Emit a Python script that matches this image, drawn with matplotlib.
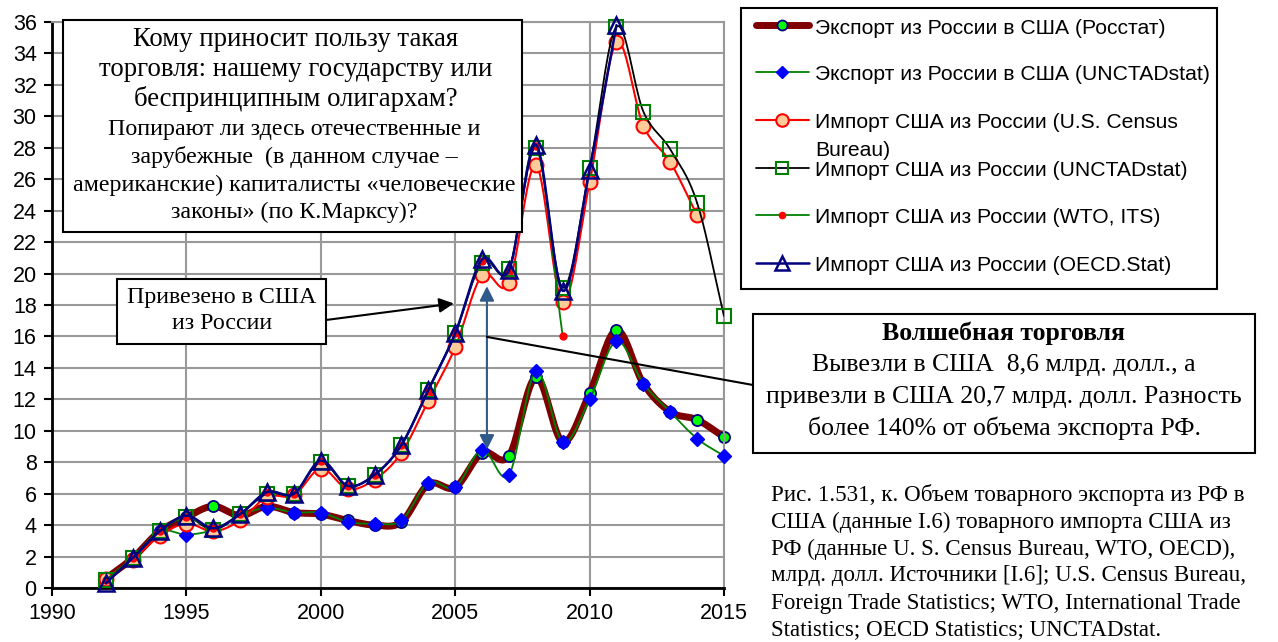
import numpy as np
import matplotlib
matplotlib.use("Agg")
import matplotlib.pyplot as plt
from matplotlib.lines import Line2D
from matplotlib.patches import Rectangle

# данные, млрд. долл.
years = list(range(1992, 2016))
exp_rosstat = [0.6, 1.9, 3.6, 4.5, 5.2, 4.6, 5.2, 4.8, 4.7, 4.3, 4.0, 4.2,
               6.6, 6.4, 8.6, 8.4, 13.4, 9.3, 12.4, 16.4, 13.0, 11.2, 10.7, 9.6]
exp_unctad = [0.6, 1.9, 3.6, 3.4, 3.7, 4.6, 5.1, 4.8, 4.8, 4.2, 4.1, 4.3,
              6.7, 6.4, 8.8, 7.2, 13.8, 9.3, 12.0, 15.7, 13.0, 11.2, 9.5, 8.4]
years_census = list(range(1992, 2015))
imp_census = [0.6, 1.8, 3.3, 4.1, 3.6, 4.3, 5.8, 5.9, 7.6, 6.3, 6.9, 8.6,
              11.9, 15.3, 19.9, 19.4, 26.9, 18.2, 25.8, 34.7, 29.4, 27.1, 23.7]
imp_unctad = [0.5, 1.9, 3.6, 4.5, 3.7, 4.7, 6.0, 6.0, 8.0, 6.5, 7.2, 9.1,
              12.6, 16.2, 20.7, 20.3, 28.0, 19.1, 26.7, 35.7, 30.3, 27.9, 24.5, 17.3]
years_wto = list(range(1992, 2010))
imp_wto = [0.5, 1.9, 3.6, 4.5, 3.8, 4.7, 6.1, 6.0, 8.1, 6.5, 7.2, 9.1,
           12.6, 16.2, 20.8, 20.2, 28.1, 16.0]
years_oecd = list(range(1992, 2012))
imp_oecd = [0.3, 1.9, 3.6, 4.6, 3.8, 4.7, 6.1, 6.0, 8.1, 6.5, 7.2, 9.1,
            12.6, 16.2, 20.9, 20.2, 28.2, 18.9, 26.6, 35.8]

labels = ["Экспорт из России в США (Росстат)",
          "Экспорт из России в США (UNCTADstat)",
          "Импорт США из России (U.S. Census\nBureau)",
          "Импорт США из России (UNCTADstat)",
          "Импорт США из России (WTO, ITS)",
          "Импорт США из России (OECD.Stat)"]

box1 = ["Кому приносит пользу такая",
        "торговля: нашему государству или",
        "беспринципным олигархам?"]
box1b = ["Попирают ли здесь отечественные и",
         "зарубежные  (в данном случае –",
         "американские) капиталисты «человеческие",
         "законы» (по К.Марксу)?"]
box3 = ["Вывезли в США  8,6 млрд. долл., а",
        "привезли в США 20,7 млрд. долл. Разность",
        "более 140% от объема экспорта РФ."]
caption = ["Рис. 1.531, к. Объем товарного экспорта из РФ в",
           "США (данные I.6) товарного импорта США из",
           "РФ (данные U. S. Census Bureau, WTO, OECD),",
           "млрд. долл. Источники [I.6]; U.S. Census Bureau,",
           "Foreign Trade Statistics; WTO, International Trade",
           "Statistics; OECD Statistics; UNCTADstat."]

W, H = 1278, 642
SANS = "Liberation Sans"
SERIF = "Liberation Serif"


def smooth(x, y, n=20):
    # сглаживание как в Excel (Catmull-Rom)
    x = np.asarray(x, float)
    y = np.asarray(y, float)
    px = np.concatenate([[2 * x[0] - x[1]], x, [2 * x[-1] - x[-2]]])
    py = np.concatenate([[2 * y[0] - y[1]], y, [2 * y[-1] - y[-2]]])
    xs, ys = [], []
    t = np.linspace(0, 1, n)
    for i in range(1, len(px) - 2):
        for arr, out in ((px, xs), (py, ys)):
            p0, p1, p2, p3 = arr[i - 1], arr[i], arr[i + 1], arr[i + 2]
            out.extend(0.5 * ((2 * p1) + (-p0 + p2) * t
                              + (2 * p0 - 5 * p1 + 4 * p2 - p3) * t ** 2
                              + (-p0 + 3 * p1 - 3 * p2 + p3) * t ** 3))
    return np.array(xs), np.array(ys)


def fx(px):
    return px / W


def fy(py):
    return 1 - py / H


# стили серий: линия, маркер
styles = [
    dict(color="#800000", lw=5, marker="o", ms=8, mfc="#00FF00", mec="#000080", mew=1.3),
    dict(color="#008000", lw=1.3, marker="D", ms=7, mfc="#0000FF", mec="#0000FF", mew=1),
    dict(color="#FF0000", lw=1.5, marker="o", ms=10, mfc="#FFCC99", mec="#FF0000", mew=1.5),
    dict(color="black", lw=1.3, marker="s", ms=10, mfc="none", mec="#008000", mew=1.5),
    dict(color="#008000", lw=1.3, marker="o", ms=5, mfc="#FF0000", mec="#FF0000", mew=1),
    dict(color="#000080", lw=1.8, marker="^", ms=11, mfc="none", mec="#000080", mew=1.8),
]
series = [(years, exp_rosstat), (years, exp_unctad), (years_census, imp_census),
          (years, imp_unctad), (years_wto, imp_wto), (years_oecd, imp_oecd)]

fig = plt.figure(figsize=(W / 100, H / 100), dpi=100)
ax = fig.add_axes([fx(52), fy(588), fx(724) - fx(52), fy(22) - fy(588)])

for k, ((xx, yy), st) in enumerate(zip(series, styles)):
    sx, sy = smooth(xx, yy)
    ax.plot(sx, sy, color=st["color"], lw=st["lw"], zorder=2 + k,
            solid_capstyle="round")
    ax.plot(xx, yy, ls="none", marker=st["marker"], ms=st["ms"], mfc=st["mfc"],
            mec=st["mec"], mew=st["mew"], zorder=2.5 + k, clip_on=False)

ax.set_xlim(1990, 2015)
ax.set_ylim(0, 36)
ax.set_xticks(range(1990, 2016, 5))
ax.set_yticks(range(0, 37, 2))
ax.grid(True, color="#999999", lw=1.5)
ax.set_axisbelow(True)
for s in ("top", "right"):
    ax.spines[s].set_color("#999999")
    ax.spines[s].set_linewidth(1.5)
for s in ("left", "bottom"):
    ax.spines[s].set_linewidth(2)
ax.tick_params(direction="out", length=6, width=1.5, labelsize=15.5, pad=5)
for t in ax.get_xticklabels() + ax.get_yticklabels():
    t.set_fontfamily(SANS)

# легенда вручную
fig.add_artist(Rectangle((fx(741), fy(289)), fx(1217) - fx(741), fy(8) - fy(289),
                         transform=fig.transFigure, fc="white", ec="black", lw=1.5))
rows = [25, 72, 120, 168, 215, 263]
for lab, st, ry in zip(labels, styles, rows):
    fig.add_artist(Line2D([fx(756), fx(809)], [fy(ry), fy(ry)], transform=fig.transFigure,
                          color=st["color"], lw=st["lw"], solid_capstyle="round"))
    fig.add_artist(Line2D([fx(782)], [fy(ry)], transform=fig.transFigure, ls="none",
                          marker=st["marker"], ms=st["ms"] * 0.9, mfc=st["mfc"],
                          mec=st["mec"], mew=st["mew"]))
    for j, part in enumerate(lab.split("\n")):
        fig.text(fx(815), fy(ry + 3 + j * 28), part, ha="left", va="center",
                 family=SANS, size=15.2)

# рамка с вопросом
fig.add_artist(Rectangle((fx(63), fy(232)), fx(522) - fx(63), fy(20) - fy(232),
                         transform=fig.transFigure, fc="white", ec="black", lw=1.5, zorder=10))
for i, s in enumerate(box1):
    fig.text(fx(296), fy(40 + i * 29.5), s, ha="center", va="center",
             family=SERIF, size=19.3, zorder=11)
for i, s in enumerate(box1b):
    fig.text(fx(294), fy(130 + i * 27.5), s, ha="center", va="center",
             family=SERIF, size=17.3, zorder=11)

# рамка «Привезено»
fig.add_artist(Rectangle((fx(117), fy(344)), fx(326) - fx(117), fy(279) - fy(344),
                         transform=fig.transFigure, fc="white", ec="black", lw=1.5, zorder=10))
fig.text(fx(222), fy(297), "Привезено в США", ha="center", va="center",
         family=SERIF, size=17.2, zorder=11)
fig.text(fx(222), fy(324), "из России", ha="center", va="center",
         family=SERIF, size=17.2, zorder=11)
ax.annotate("", xy=(2004.95, 18.1), xycoords="data",
            xytext=(fx(326), fy(320)), textcoords="figure fraction",
            arrowprops=dict(arrowstyle="-|>", color="black", lw=1.5, mutation_scale=22,
                            shrinkA=0, shrinkB=0),
            zorder=11)

# двойная стрелка разности
ax.annotate("", xy=(2006.18, 19.2), xytext=(2006.18, 8.8),
            arrowprops=dict(arrowstyle="<|-|>", color="#2F5A8A", lw=1.5, mutation_scale=22,
                            shrinkA=0, shrinkB=0), zorder=9)

# рамка «Волшебная торговля»
ax.annotate("", xy=(2006.18, 15.97), xycoords="data",
            xytext=(fx(753), fy(385)), textcoords="figure fraction",
            arrowprops=dict(arrowstyle="-", color="black", lw=1.5, shrinkA=0, shrinkB=0),
            annotation_clip=False, zorder=9)
fig.add_artist(Rectangle((fx(753), fy(453)), fx(1255) - fx(753), fy(314) - fy(453),
                         transform=fig.transFigure, fc="white", ec="black", lw=1.5, zorder=10))
fig.text(fx(1004), fy(333), "Волшебная торговля", ha="center", va="center",
         family=SERIF, size=18.5, weight="bold", zorder=11)
for i, s in enumerate(box3):
    fig.text(fx(1004), fy(365 + i * 31.5), s, ha="center", va="center",
             family=SERIF, size=18.5, zorder=11)

# подпись
for i, s in enumerate(caption):
    fig.text(fx(771), fy(495 + i * 27), s, ha="left", va="center",
             family=SERIF, size=16.6)

fig.savefig("out.png", dpi=100)
